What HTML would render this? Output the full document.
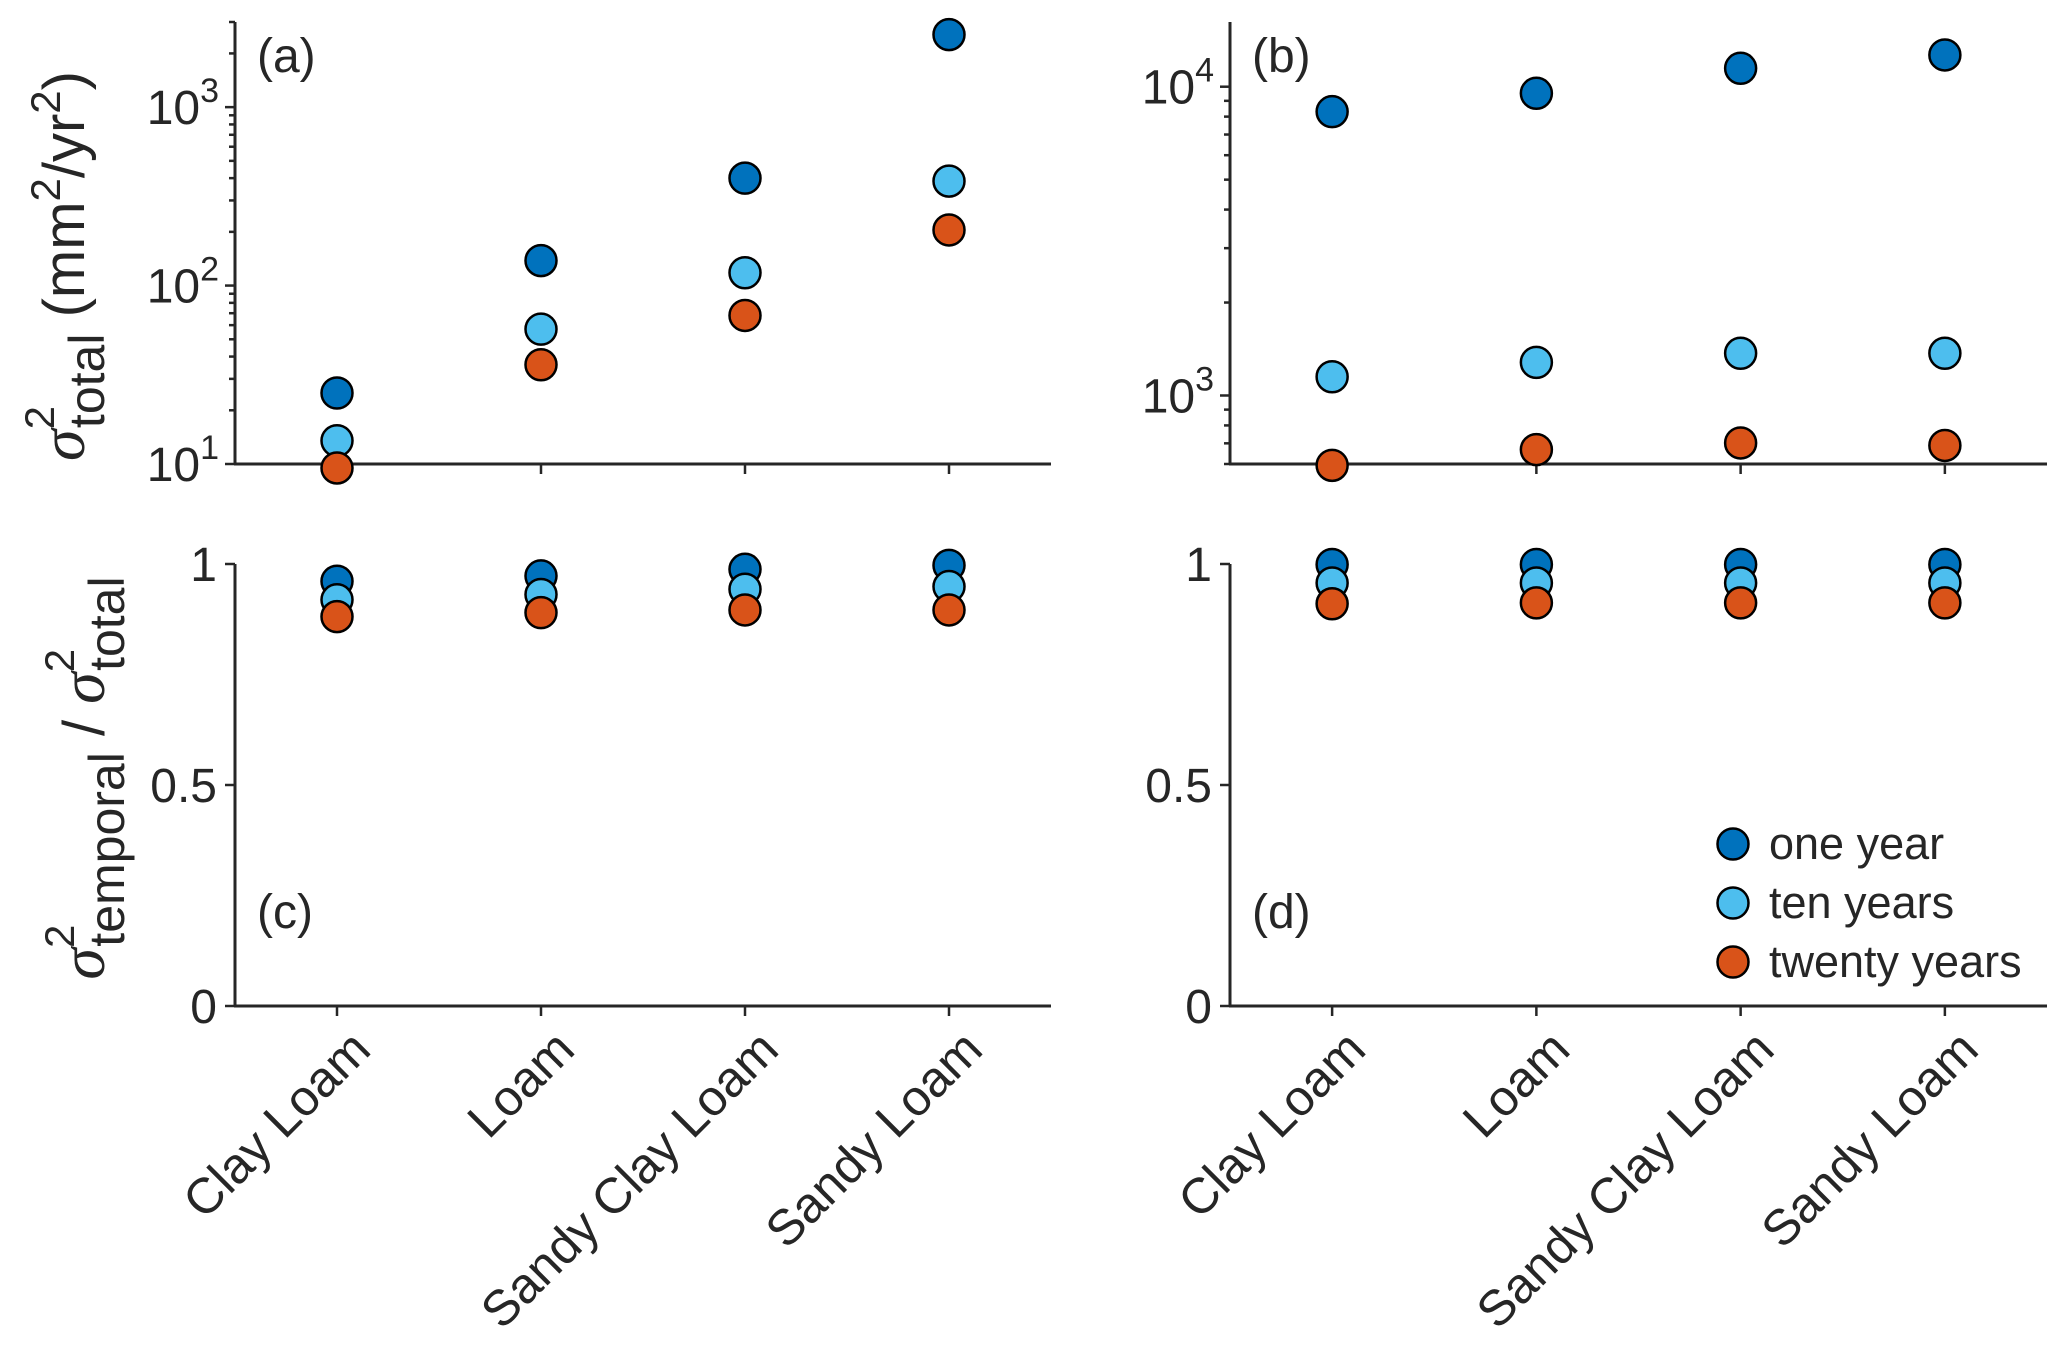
<!DOCTYPE html>
<html><head><meta charset="utf-8"><style>
body{margin:0;background:#fff}
svg text{font-family:"Liberation Sans",Arial,sans-serif;fill:#262626}
</style></head><body>
<svg id="chart" width="2067" height="1358" xmlns="http://www.w3.org/2000/svg"></svg>
<script>
const categories=["Clay Loam","Loam","Sandy Clay Loam","Sandy Loam"];
const seriesNames=["one year","ten years","twenty years"];
const seriesColors=["#0072BD","#4DBEEE","#D95319"];
const aOne=[25,138,400,2550];
const aTen=[13.5,57,118,385];
const aTwenty=[9.5,36,68,205];
const bOne=[8300,9520,11470,12670];
const bTen=[1150,1280,1370,1370];
const bTwenty=[594,668,702,689];
const cOne=[0.961,0.973,0.988,0.997];
const cTen=[0.919,0.931,0.943,0.949];
const cTwenty=[0.881,0.890,0.896,0.896];
const dOne=[0.999,0.999,0.999,0.999];
const dTen=[0.957,0.957,0.957,0.957];
const dTwenty=[0.910,0.912,0.912,0.912];
const linTicks=[0,0.5,1];
const linTickLabels=["0","0.5","1"];

const NS="http://www.w3.org/2000/svg";
const svg=document.getElementById('chart');
function mk(tag,attrs,parent){const e=document.createElementNS(NS,tag);for(const k in attrs)e.setAttribute(k,attrs[k]);(parent||svg).appendChild(e);return e;}

const panels=[
 {id:'a',x0:235,x1:1051,y0:22,y1:464,log:true,ymin:10,ymax:3000,data:[aOne,aTen,aTwenty]},
 {id:'b',x0:1230,x1:2047,y0:22,y1:464,log:true,ymin:600,ymax:16200,data:[bOne,bTen,bTwenty]},
 {id:'c',x0:235,x1:1051,y0:564,y1:1006,log:false,ymin:0,ymax:1,data:[cOne,cTen,cTwenty]},
 {id:'d',x0:1230,x1:2047,y0:564,y1:1006,log:false,ymin:0,ymax:1,data:[dOne,dTen,dTwenty]}
];
panels.forEach(p=>{
 const g=mk('g',{});
 
 
 const xs=i=>p.x0+(i+0.5)/categories.length*(p.x1-p.x0);
 let ys;
 if(p.log){const l0=Math.log10(p.ymin),l1=Math.log10(p.ymax);ys=v=>p.y1-(Math.log10(v)-l0)/(l1-l0)*(p.y1-p.y0);}
 else ys=v=>p.y1-(v-p.ymin)/(p.ymax-p.ymin)*(p.y1-p.y0);
 if(p.log){
  for(let d=Math.floor(Math.log10(p.ymin));d<=Math.ceil(Math.log10(p.ymax));d++){
   for(let m=1;m<10;m++){const v=m*Math.pow(10,d);if(v<p.ymin||v>p.ymax)continue;
    const y=ys(v);const len=m===1?10:6;
    mk('line',{x1:p.x0-len,x2:p.x0,y1:y,y2:y,stroke:'#262626','stroke-width':2.5},g);
    if(m===1){const t=mk('text',{x:p.x0-16,y:y+17,'text-anchor':'end','font-size':48},g);
     
     t.appendChild(document.createTextNode('10'));const s=mk('tspan',{dy:-22,'font-size':34},t);s.textContent=String(d);}
   }}
 } else {
  linTicks.forEach((v,i)=>{const y=ys(v);
   mk('line',{x1:p.x0-10,x2:p.x0,y1:y,y2:y,stroke:'#262626','stroke-width':2.5},g);
   const t=mk('text',{x:p.x0-18,y:y+17,'text-anchor':'end','font-size':48},g);
   
   t.textContent=linTickLabels[i];});
 }
 mk('line',{x1:p.x0,x2:p.x0,y1:p.y0,y2:p.y1+1,stroke:'#262626','stroke-width':3},g);
 mk('line',{x1:p.x0-1,x2:p.x1,y1:p.y1,y2:p.y1,stroke:'#262626','stroke-width':3},g);
 categories.forEach((c,i)=>{const x=xs(i);
  mk('line',{x1:x,x2:x,y1:p.y1,y2:p.y1+10,stroke:'#262626','stroke-width':2.5},g);
  if(!p.log){const t=mk('text',{x:0,y:0,'text-anchor':'end','font-size':50,transform:`translate(${x+36},${p.y1+46}) rotate(-45)`},g);
   t.textContent=c;}
 });
 p.data.forEach((arr,si)=>arr.forEach((v,i)=>{
  const cc=mk('circle',{cx:xs(i),cy:ys(v),r:15.5,fill:seriesColors[si],stroke:'#000','stroke-width':2.5},g);
  
  
 }));
 const lbl=mk('text',{x:p.x0+22,y:p.log?p.y0+50:p.y1-78,'font-size':48},g);
 
 lbl.textContent='('+p.id+')';
});
const lg=mk('g',{});


seriesNames.forEach((n,i)=>{const y=844+i*59;
 const c=mk('circle',{cx:1733,cy:y,r:15.5,fill:seriesColors[i],stroke:'#000','stroke-width':2.5},lg);
 
 const t=mk('text',{x:1769,y:y+15,'font-size':45},lg);
 t.textContent=n;});
</script>
<svg style="position:absolute;left:0;top:0" width="300" height="1358" xmlns="http://www.w3.org/2000/svg">
<text transform="translate(84,266) rotate(-90)" text-anchor="middle" font-size="58"><tspan font-style="italic" font-family="Liberation Serif, serif" font-size="64">σ</tspan><tspan dy="-30" font-size="42">2</tspan><tspan dy="50" dx="-22" font-size="50">total</tspan><tspan dy="-20"> (mm</tspan><tspan dy="-24" font-size="42">2</tspan><tspan dy="24">/yr</tspan><tspan dy="-24" font-size="42">2</tspan><tspan dy="24">)</tspan></text>
<text transform="translate(104,778) rotate(-90)" text-anchor="middle" font-size="58"><tspan font-style="italic" font-family="Liberation Serif, serif" font-size="64">σ</tspan><tspan dy="-30" font-size="42">2</tspan><tspan dy="50" dx="-22" font-size="50">temporal</tspan><tspan dy="-20"> / </tspan><tspan font-style="italic" font-family="Liberation Serif, serif" font-size="64">σ</tspan><tspan dy="-30" font-size="42">2</tspan><tspan dy="50" dx="-22" font-size="50">total</tspan></text>
</svg>
</body></html>
